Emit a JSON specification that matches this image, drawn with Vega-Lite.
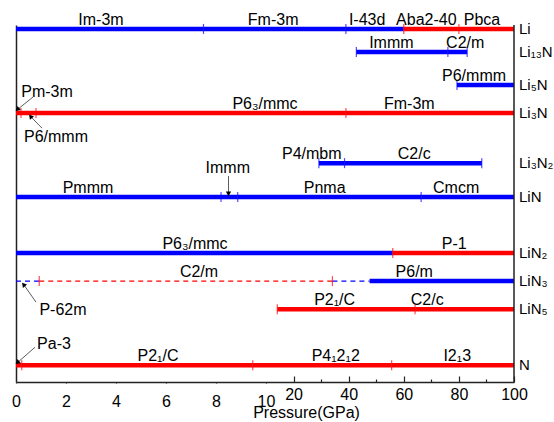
{
  "$schema": "https://vega.github.io/schema/vega-lite/v6.json",
  "width": 498,
  "height": 357,
  "autosize": "none",
  "padding": {"left": 16, "top": 25, "right": 40, "bottom": 40},
  "config": {"font": "Liberation Sans", "view": {"stroke": null}},
  "datasets": {
    "rows": [
      {"material": "Li", "pos": 0},
      {"material": "Li₁₃N", "pos": 0.82},
      {"material": "Li₅N", "pos": 2},
      {"material": "Li₃N", "pos": 3},
      {"material": "Li₃N₂", "pos": 4.79},
      {"material": "LiN", "pos": 6},
      {"material": "LiN₂", "pos": 8},
      {"material": "LiN₃", "pos": 9},
      {"material": "LiN₅", "pos": 10},
      {"material": "N", "pos": 12}
    ],
    "phases": [
      {"material": "Li", "phase": "Im-3m", "start": 0, "end": 7.5, "electronic": "metal", "stability": "stable", "at": 3.4},
      {"material": "Li", "phase": "Fm-3m", "start": 7.5, "end": 39, "electronic": "metal", "stability": "stable", "at": 12.6},
      {"material": "Li", "phase": "I-43d", "start": 39, "end": 60, "electronic": "metal", "stability": "stable", "at": 46.7},
      {"material": "Li", "phase": "Aba2-40", "start": 60, "end": 80, "electronic": "nonmetal", "stability": "stable", "at": 68.2},
      {"material": "Li", "phase": "Pbca", "start": 80, "end": 100, "electronic": "nonmetal", "stability": "stable", "at": 88.4},
      {"material": "Li₁₃N", "phase": "Immm", "start": 42.8, "end": 76, "electronic": "metal", "stability": "stable", "at": 55.5},
      {"material": "Li₁₃N", "phase": "C2/m", "start": 76, "end": 83, "electronic": "metal", "stability": "stable", "at": 82.3},
      {"material": "Li₅N", "phase": "P6/mmm", "start": 79.3, "end": 100, "electronic": "metal", "stability": "stable", "at": 85.5},
      {"material": "Li₃N", "phase": "Pm-3m", "start": 0, "end": 0.2, "electronic": "nonmetal", "stability": "stable", "at": null},
      {"material": "Li₃N", "phase": "P6/mmm", "start": 0.2, "end": 0.8, "electronic": "nonmetal", "stability": "stable", "at": null},
      {"material": "Li₃N", "phase": "P6₃/mmc", "start": 0.8, "end": 39, "electronic": "nonmetal", "stability": "stable", "at": 9.96},
      {"material": "Li₃N", "phase": "Fm-3m", "start": 39, "end": 100, "electronic": "nonmetal", "stability": "stable", "at": 62},
      {"material": "Li₃N₂", "phase": "P4/mbm", "start": 29.2, "end": 38.5, "electronic": "metal", "stability": "stable", "at": 26.6},
      {"material": "Li₃N₂", "phase": "C2/c", "start": 38.5, "end": 88.3, "electronic": "metal", "stability": "stable", "at": 63.8},
      {"material": "LiN", "phase": "Pmmm", "start": 0, "end": 8.2, "electronic": "metal", "stability": "stable", "at": 2.88},
      {"material": "LiN", "phase": "Immm", "start": 8.2, "end": 8.87, "electronic": "metal", "stability": "stable", "at": null},
      {"material": "LiN", "phase": "Pnma", "start": 8.87, "end": 66.3, "electronic": "metal", "stability": "stable", "at": 31.3},
      {"material": "LiN", "phase": "Cmcm", "start": 66.3, "end": 100, "electronic": "metal", "stability": "stable", "at": 79},
      {"material": "LiN₂", "phase": "P6₃/mmc", "start": 0, "end": 56, "electronic": "metal", "stability": "stable", "at": 7.16},
      {"material": "LiN₂", "phase": "P-1", "start": 56, "end": 100, "electronic": "nonmetal", "stability": "stable", "at": 78.3},
      {"material": "LiN₃", "phase": "P-62m", "start": 0, "end": 0.93, "electronic": "metal", "stability": "metastable", "at": null},
      {"material": "LiN₃", "phase": "C2/m", "start": 0.93, "end": 34.1, "electronic": "nonmetal", "stability": "metastable", "at": 7.32},
      {"material": "LiN₃", "phase": "P6/m", "start": 34.1, "end": 47.6, "electronic": "metal", "stability": "metastable", "at": null},
      {"material": "LiN₃", "phase": "P6/m", "start": 47.6, "end": 100, "electronic": "metal", "stability": "stable", "at": 63.8},
      {"material": "LiN₅", "phase": "P2₁/C", "start": 14.1, "end": 64.1, "electronic": "nonmetal", "stability": "stable", "at": 34.9},
      {"material": "LiN₅", "phase": "C2/c", "start": 64.1, "end": 100, "electronic": "nonmetal", "stability": "stable", "at": 68.5},
      {"material": "N", "phase": "Pa-3", "start": 0, "end": 0.23, "electronic": "nonmetal", "stability": "stable", "at": null},
      {"material": "N", "phase": "P2₁/C", "start": 0.23, "end": 9.47, "electronic": "nonmetal", "stability": "stable", "at": 5.68},
      {"material": "N", "phase": "P4₁2₁2", "start": 9.47, "end": 55.6, "electronic": "nonmetal", "stability": "stable", "at": 35.3},
      {"material": "N", "phase": "I2₁3", "start": 55.6, "end": 100, "electronic": "nonmetal", "stability": "stable", "at": 79.4}
    ],
    "transitions": [
      {"material": "Li", "p": 7.5, "electronic": "metal"},
      {"material": "Li", "p": 39, "electronic": "metal"},
      {"material": "Li", "p": 60, "electronic": "nonmetal"},
      {"material": "Li", "p": 80, "electronic": "nonmetal"},
      {"material": "Li₁₃N", "p": 42.8, "electronic": "metal"},
      {"material": "Li₁₃N", "p": 76, "electronic": "metal"},
      {"material": "Li₁₃N", "p": 83, "electronic": "metal"},
      {"material": "Li₅N", "p": 79.3, "electronic": "metal"},
      {"material": "Li₃N", "p": 0.2, "electronic": "nonmetal"},
      {"material": "Li₃N", "p": 0.8, "electronic": "nonmetal"},
      {"material": "Li₃N", "p": 39, "electronic": "nonmetal"},
      {"material": "Li₃N₂", "p": 29.2, "electronic": "metal"},
      {"material": "Li₃N₂", "p": 38.5, "electronic": "metal"},
      {"material": "Li₃N₂", "p": 88.3, "electronic": "metal"},
      {"material": "LiN", "p": 8.2, "electronic": "metal"},
      {"material": "LiN", "p": 8.87, "electronic": "metal"},
      {"material": "LiN", "p": 66.3, "electronic": "metal"},
      {"material": "LiN₂", "p": 56, "electronic": "nonmetal"},
      {"material": "LiN₃", "p": 0.93, "electronic": "nonmetal"},
      {"material": "LiN₃", "p": 34.1, "electronic": "nonmetal"},
      {"material": "LiN₅", "p": 14.1, "electronic": "nonmetal"},
      {"material": "LiN₅", "p": 64.1, "electronic": "nonmetal"},
      {"material": "N", "p": 0.23, "electronic": "nonmetal"},
      {"material": "N", "p": 9.47, "electronic": "nonmetal"},
      {"material": "N", "p": 55.6, "electronic": "nonmetal"}
    ],
    "notes": [
      {"label": "Pm-3m", "lx": 1.24, "ly": 2.25, "tailX": 0.68, "tailY": 2.43, "tipX": 0.08, "tipY": 2.86, "dir": "down-left"},
      {"label": "P6/mmm", "lx": 1.6, "ly": 3.86, "tailX": 1.04, "tailY": 3.54, "tipX": 0.6, "tipY": 3.14, "dir": "up-left"},
      {"label": "Immm", "lx": 8.47, "ly": 4.96, "tailX": 8.5, "tailY": 5.25, "tipX": 8.5, "tipY": 5.86, "dir": "down"},
      {"label": "P-62m", "lx": 1.88, "ly": 10.04, "tailX": 0.8, "tailY": 9.75, "tipX": 0.32, "tipY": 9.14, "dir": "up-left"},
      {"label": "Pa-3", "lx": 1.52, "ly": 11.25, "tailX": 0.76, "tailY": 11.36, "tipX": 0.08, "tipY": 11.89, "dir": "down-left"}
    ]
  },
  "layer": [
    {
      "data": {"name": "phases"},
      "transform": [{"lookup": "material", "from": {"data": {"name": "rows"}, "key": "material", "fields": ["pos"]}}],
      "mark": {"type": "rule"},
      "encoding": {
        "x": {
          "field": "start", "type": "quantitative",
          "scale": {"domain": [0, 10, 100], "range": [0, 250, 498], "nice": false, "zero": false},
          "axis": {
            "orient": "bottom",
            "values": [0, 1, 2, 3, 4, 5, 6, 7, 8, 9, 10, 20, 30, 40, 50, 60, 70, 80, 90, 100],
            "tickCount": 50,
            "labelExpr": "(datum.value <= 10 ? datum.value % 2 == 0 : datum.value % 20 == 0) ? datum.label : ''",
            "labelFontSize": 16, "labelColor": "#000", "labelFont": "Liberation Sans",
            "labelOverlap": false, "labelFlush": false,
            "tickSize": {"condition": {"test": "datum.value <= 10 ? datum.value % 2 == 0 : datum.value % 20 == 0", "value": -6}, "value": -3},
            "tickColor": "#222", "tickWidth": 1.2,
            "domainColor": "#222", "domainWidth": 1.5,
            "grid": false,
            "labelPadding": 10,
            "title": "Pressure(GPa)", "titleFontSize": 16, "titleFontWeight": "normal", "titleColor": "#000", "titleFont": "Liberation Sans",
            "titlePadding": -5,
            "titleX": 290
          }
        },
        "x2": {"field": "end"},
        "y": {
          "field": "pos", "type": "quantitative",
          "scale": {"domain": [-0.14, 12.6], "reverse": true, "nice": false, "zero": false},
          "axis": {"orient": "left", "labels": false, "ticks": false, "grid": false, "title": null, "domainColor": "#222", "domainWidth": 1.5}
        },
        "color": {"field": "electronic", "type": "nominal", "scale": {"domain": ["metal", "nonmetal"], "range": ["#0000ff", "#ff0000"]}, "legend": null},
        "strokeDash": {"field": "stability", "type": "nominal", "scale": {"domain": ["stable", "metastable"], "range": [[1, 0], [5, 4]]}, "legend": null},
        "strokeWidth": {"field": "stability", "type": "nominal", "scale": {"domain": ["stable", "metastable"], "range": [4.5, 1.2]}, "legend": null}
      }
    },
    {
      "data": {"name": "transitions"},
      "transform": [{"lookup": "material", "from": {"data": {"name": "rows"}, "key": "material", "fields": ["pos"]}}],
      "mark": {"type": "tick", "orient": "vertical", "size": 10, "thickness": 1.2},
      "encoding": {
        "x": {"field": "p", "type": "quantitative"},
        "y": {"field": "pos", "type": "quantitative"},
        "color": {"field": "electronic", "type": "nominal", "legend": null}
      }
    },
    {
      "data": {"name": "phases"},
      "transform": [
        {"filter": "datum.at != null"},
        {"lookup": "material", "from": {"data": {"name": "rows"}, "key": "material", "fields": ["pos"]}}
      ],
      "mark": {"type": "text", "fontSize": 16, "baseline": "alphabetic", "align": "center", "dy": -4, "color": "#000"},
      "encoding": {
        "x": {"field": "at", "type": "quantitative"},
        "y": {"field": "pos", "type": "quantitative"},
        "text": {"field": "phase"}
      }
    },
    {
      "data": {"values": [{}]},
      "mark": {"type": "rule", "color": "#222", "strokeWidth": 1.5},
      "encoding": {"x": {"datum": 100, "type": "quantitative"}}
    },
    {
      "data": {"name": "rows"},
      "mark": {"type": "text", "fontSize": 15, "align": "left", "baseline": "middle", "dx": 5, "color": "#000"},
      "encoding": {
        "x": {"datum": 100, "type": "quantitative"},
        "y": {"field": "pos", "type": "quantitative"},
        "text": {"field": "material"}
      }
    },
    {
      "data": {"name": "notes"},
      "mark": {"type": "rule", "color": "#333", "strokeWidth": 0.8},
      "encoding": {
        "x": {"field": "tailX", "type": "quantitative"},
        "y": {"field": "tailY", "type": "quantitative"},
        "x2": {"field": "tipX"},
        "y2": {"field": "tipY"}
      }
    },
    {
      "data": {"name": "notes"},
      "mark": {"type": "text", "fontSize": 16, "align": "center", "baseline": "middle", "color": "#000"},
      "encoding": {
        "x": {"field": "lx", "type": "quantitative"},
        "y": {"field": "ly", "type": "quantitative"},
        "text": {"field": "label"}
      }
    },
    {
      "data": {"name": "notes"},
      "transform": [{"filter": "datum.dir == 'down-left'"}],
      "mark": {"type": "point", "shape": "triangle", "filled": true, "size": 28, "angle": 230, "color": "#000", "opacity": 1},
      "encoding": {"x": {"field": "tipX", "type": "quantitative"}, "y": {"field": "tipY", "type": "quantitative"}}
    },
    {
      "data": {"name": "notes"},
      "transform": [{"filter": "datum.dir == 'up-left'"}],
      "mark": {"type": "point", "shape": "triangle", "filled": true, "size": 28, "angle": 320, "color": "#000", "opacity": 1},
      "encoding": {"x": {"field": "tipX", "type": "quantitative"}, "y": {"field": "tipY", "type": "quantitative"}}
    },
    {
      "data": {"name": "notes"},
      "transform": [{"filter": "datum.dir == 'down'"}],
      "mark": {"type": "point", "shape": "triangle", "filled": true, "size": 28, "angle": 180, "color": "#000", "opacity": 1},
      "encoding": {"x": {"field": "tipX", "type": "quantitative"}, "y": {"field": "tipY", "type": "quantitative"}}
    }
  ]
}
